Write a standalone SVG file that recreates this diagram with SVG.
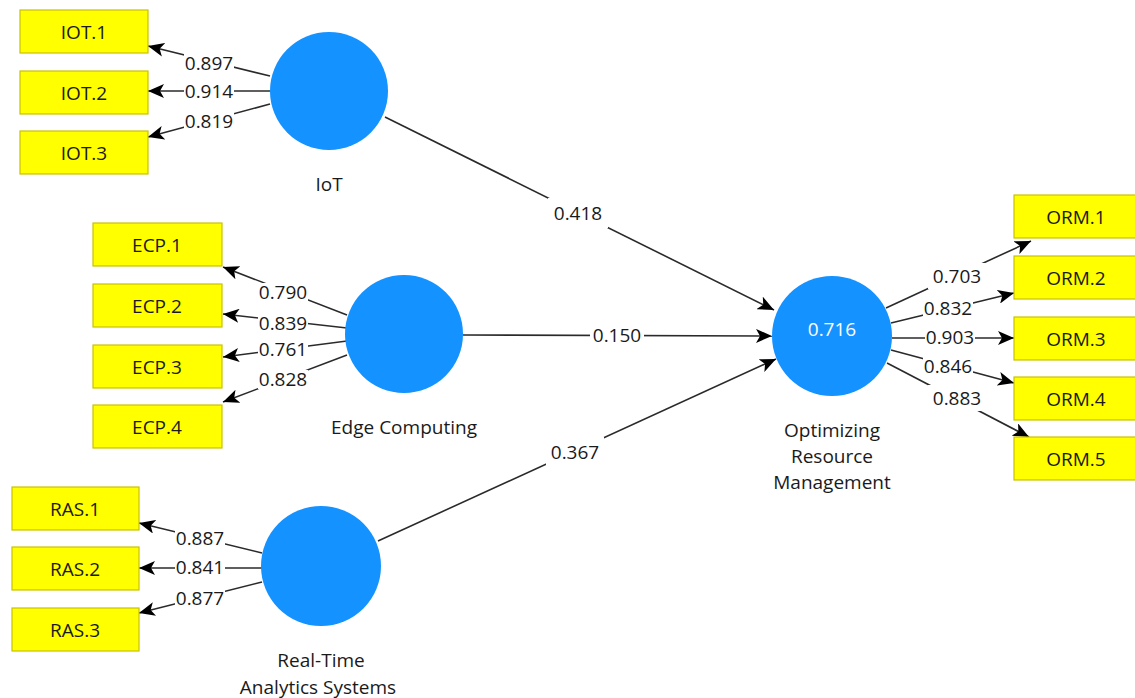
<svg xmlns="http://www.w3.org/2000/svg" width="1135" height="698" viewBox="0 0 1135 698">
<style>
text{font-family:"Segoe UI","Open Sans","Noto Sans",sans-serif;font-size:19px;fill:#1a1a1a;text-anchor:middle;dominant-baseline:central}
.box{fill:#ffff00;stroke:#c9c200;stroke-width:1.2}
.lv{fill:#1492ff}
.c{stroke:#2a2a2a;stroke-width:1.6;fill:none;marker-end:url(#ah)}
.bg{fill:#fff}
</style>
<defs>
<marker id="ah" markerUnits="userSpaceOnUse" viewBox="0 0 16 14" refX="16" refY="7" markerWidth="16" markerHeight="14" orient="auto">
<path d="M0,0 L16,7 L0,14 L4,7 z" fill="#000"/>
</marker>
</defs>
<rect width="1135" height="698" fill="#fff"/>

<g id="connectors">
<line class="c" x1="270" y1="76" x2="148" y2="46"/>
<line class="c" x1="270" y1="91" x2="148" y2="91"/>
<line class="c" x1="270" y1="104" x2="148" y2="137"/>
<line class="c" x1="347" y1="315" x2="223" y2="267"/>
<line class="c" x1="347" y1="328" x2="223" y2="314"/>
<line class="c" x1="347" y1="341" x2="223" y2="357"/>
<line class="c" x1="347" y1="355" x2="223" y2="402"/>
<line class="c" x1="262" y1="553" x2="139" y2="523"/>
<line class="c" x1="262" y1="568" x2="139" y2="568"/>
<line class="c" x1="262" y1="582" x2="139" y2="613"/>
<line class="c" x1="886" y1="308" x2="1031" y2="241"/>
<line class="c" x1="891" y1="323" x2="1014" y2="293"/>
<line class="c" x1="892" y1="338" x2="1014" y2="338"/>
<line class="c" x1="891" y1="350" x2="1014" y2="383"/>
<line class="c" x1="887" y1="363" x2="1029" y2="437"/>
<line class="c" x1="385" y1="117" x2="774" y2="310"/>
<line class="c" x1="463" y1="335" x2="772" y2="336"/>
<line class="c" x1="378" y1="541" x2="776" y2="359"/>
<g class="bg">
<rect x="184" y="54" width="50" height="19"/>
<rect x="184" y="82" width="50" height="19"/>
<rect x="184" y="112" width="50" height="19"/>
<rect x="258" y="283" width="50" height="19"/>
<rect x="258" y="314" width="50" height="19"/>
<rect x="258" y="340" width="50" height="19"/>
<rect x="258" y="370" width="50" height="19"/>
<rect x="175" y="529" width="50" height="19"/>
<rect x="175" y="558" width="50" height="19"/>
<rect x="175" y="589" width="50" height="19"/>
<rect x="928" y="263" width="58" height="26"/>
<rect x="923" y="299" width="50" height="19"/>
<rect x="925" y="328" width="50" height="19"/>
<rect x="923" y="357" width="50" height="19"/>
<rect x="928" y="385" width="58" height="26"/>
<rect x="548" y="198" width="60" height="30"/>
<rect x="590" y="326" width="54" height="19"/>
<rect x="546" y="437" width="58" height="30"/>
</g>
<text x="209" y="63">0.897</text>
<text x="209" y="91">0.914</text>
<text x="209" y="121">0.819</text>
<text x="283" y="292">0.790</text>
<text x="283" y="323">0.839</text>
<text x="283" y="349">0.761</text>
<text x="283" y="379">0.828</text>
<text x="200" y="538">0.887</text>
<text x="200" y="567">0.841</text>
<text x="200" y="598">0.877</text>
<text x="957" y="276">0.703</text>
<text x="948" y="308">0.832</text>
<text x="950" y="337">0.903</text>
<text x="948" y="366">0.846</text>
<text x="957" y="398">0.883</text>
<text x="578" y="213">0.418</text>
<text x="617" y="335">0.150</text>
<text x="575" y="452">0.367</text>
</g>

<g id="IOT.1"><rect class="box" x="20" y="10" width="128" height="43"/><text x="84" y="32">IOT.1</text></g>
<g id="IOT.2"><rect class="box" x="20" y="71" width="128" height="43"/><text x="84" y="93">IOT.2</text></g>
<g id="IOT.3"><rect class="box" x="20" y="131" width="128" height="43"/><text x="84" y="153">IOT.3</text></g>

<g id="ECP.1"><rect class="box" x="93" y="223" width="129" height="43"/><text x="157" y="245">ECP.1</text></g>
<g id="ECP.2"><rect class="box" x="93" y="284" width="129" height="43"/><text x="157" y="306">ECP.2</text></g>
<g id="ECP.3"><rect class="box" x="93" y="345" width="129" height="43"/><text x="157" y="367">ECP.3</text></g>
<g id="ECP.4"><rect class="box" x="93" y="405" width="129" height="43"/><text x="157" y="427">ECP.4</text></g>

<g id="RAS.1"><rect class="box" x="12" y="487" width="127" height="43"/><text x="75" y="509">RAS.1</text></g>
<g id="RAS.2"><rect class="box" x="12" y="547" width="127" height="43"/><text x="75" y="569">RAS.2</text></g>
<g id="RAS.3"><rect class="box" x="12" y="608" width="127" height="43"/><text x="75" y="630">RAS.3</text></g>

<g id="ORM.1"><rect class="box" x="1014" y="195" width="128" height="43"/><text x="1076" y="217">ORM.1</text></g>
<g id="ORM.2"><rect class="box" x="1014" y="256" width="128" height="43"/><text x="1076" y="278">ORM.2</text></g>
<g id="ORM.3"><rect class="box" x="1014" y="317" width="128" height="43"/><text x="1076" y="339">ORM.3</text></g>
<g id="ORM.4"><rect class="box" x="1014" y="377" width="128" height="43"/><text x="1076" y="399">ORM.4</text></g>
<g id="ORM.5"><rect class="box" x="1014" y="437" width="128" height="43"/><text x="1076" y="459">ORM.5</text></g>

<g id="IoT"><circle class="lv" cx="329" cy="91" r="59"/><text x="329" y="184">IoT</text></g>
<g id="EdgeComputing"><circle class="lv" cx="404" cy="334" r="59"/><text x="404" y="427">Edge Computing</text></g>
<g id="RealTimeAnalyticsSystems"><circle class="lv" cx="321" cy="566" r="60"/><text x="321" y="660">Real-Time</text><text x="318" y="687">Analytics Systems</text></g>
<g id="OptimizingResourceManagement"><circle class="lv" cx="832" cy="336" r="60"/><text x="832" y="329" style="fill:#fff">0.716</text><text x="832" y="430">Optimizing</text><text x="832" y="456">Resource</text><text x="832" y="482">Management</text></g>
</svg>
